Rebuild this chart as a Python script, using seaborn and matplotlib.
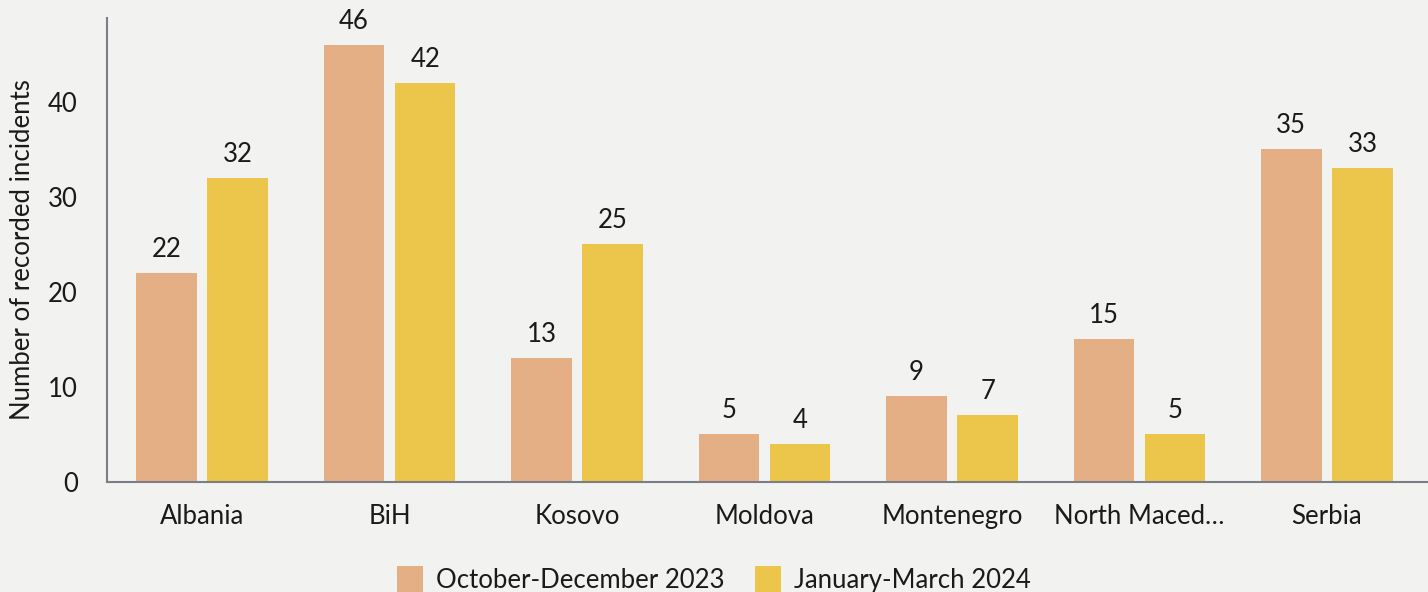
import pandas as pd
import matplotlib.pyplot as plt
import seaborn as sns

countries = ['Albania', 'BiH', 'Kosovo', 'Moldova', 'Montenegro', 'North Macedonia', 'Serbia']
tick_labels = ['Albania', 'BiH', 'Kosovo', 'Moldova', 'Montenegro', 'North Maced…', 'Serbia']
periods = ['October-December 2023', 'January-March 2024']
oct_dec_2023 = [22, 46, 13, 5, 9, 15, 35]
jan_mar_2024 = [32, 42, 25, 4, 7, 5, 33]

df = pd.DataFrame({
    'country': countries * 2,
    'period': [periods[0]] * len(countries) + [periods[1]] * len(countries),
    'incidents': oct_dec_2023 + jan_mar_2024,
})

bg = '#f2f3f0'
fs = 18.5
sns.set_theme(style='white')
plt.rcParams['font.family'] = ['Lato', 'DejaVu Sans']
plt.rcParams['text.color'] = '#1a1a1a'

fig = plt.figure(figsize=(14.28, 5.92), dpi=100, facecolor=bg)
ax = fig.add_axes([0.0749, 0.1858, 0.9251, 0.7838], facecolor=bg)

sns.barplot(data=df, x='country', y='incidents', hue='period',
            palette=['#e4af84', '#ecc64a'], width=0.76, gap=0.15,
            saturation=1, linewidth=0, ax=ax, legend=True)

for c in ax.containers:
    ax.bar_label(c, padding=8, fontsize=fs, color='#1a1a1a')

ax.set_ylim(0, 48.8)
ax.set_xlim(-0.507, len(countries) - 0.461)
ax.set_yticks([0, 10, 20, 30, 40])
ax.set_xticks(range(len(countries)))
ax.set_xticklabels(tick_labels)
ax.tick_params(axis='both', length=0, labelsize=fs, labelcolor='#1a1a1a')
ax.tick_params(axis='y', pad=21)
ax.tick_params(axis='x', pad=16)
ax.set_xlabel('')
ax.set_ylabel('Number of recorded incidents', fontsize=fs, labelpad=9, color='#1a1a1a')

sns.despine(ax=ax)
for side in ['left', 'bottom']:
    ax.spines[side].set_color('#7a7f87')
    ax.spines[side].set_linewidth(1.5)

handles, labels = ax.get_legend_handles_labels()
ax.get_legend().remove()
fig.legend(handles, labels, loc='lower center', bbox_to_anchor=(0.5, -0.04), ncol=2,
           frameon=False, fontsize=fs, handlelength=1.0, handleheight=1.2,
           handletextpad=0.5, columnspacing=1.2)

fig.savefig('out.png', dpi=100, facecolor=bg)
